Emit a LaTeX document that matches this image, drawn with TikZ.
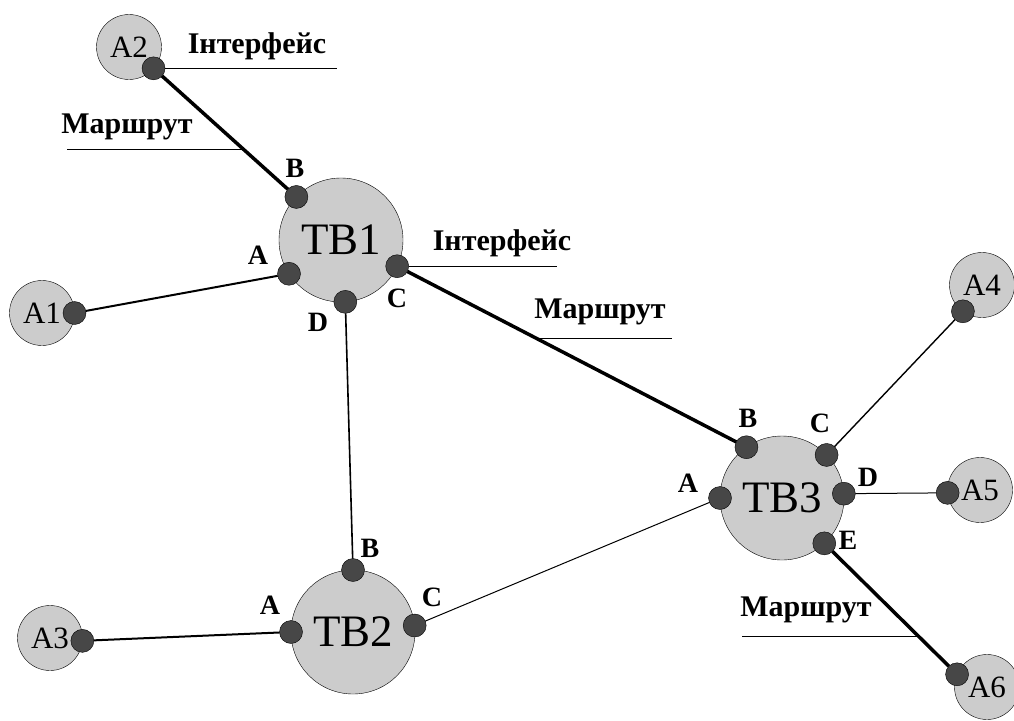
\documentclass[tikz,border=0pt]{standalone}
\usepackage{fontspec}
\setmainfont{Liberation Serif}
\usepackage{tikz}
\usepackage{xcolor}
\definecolor{hubgray}{HTML}{CCCCCC}
\definecolor{portgray}{HTML}{474747}
\newcommand\portR{11.5pt}
\tikzstyle{hub}=[circle,draw,fill=hubgray,minimum size=124pt,
  inner sep=0pt,outer sep=0pt,font=\fontsize{45}{45}\selectfont]
\tikzstyle{term}=[circle,draw,fill=hubgray,minimum size=65pt,
  inner sep=0pt,outer sep=0pt,font=\fontsize{31}{31}\selectfont]
\tikzstyle{port}=[circle,draw,fill=portgray,minimum size=2*\portR,
  inner sep=0pt,outer sep=0pt]
\tikzstyle{plbl}=[font=\bfseries\fontsize{28}{28}\selectfont,inner sep=0pt]
\tikzstyle{note}=[font=\bfseries\fontsize{30}{30}\selectfont,inner sep=0pt]
\tikzstyle{route}=[line width=3.5pt]

\begin{document}
\begin{tikzpicture}[x=1pt,y=-1pt]
  \useasboundingbox (0,0) rectangle (1014,720);
  % nodes
  \foreach \n/\x/\y/\t in {tb1/341/240/TB1, tb2/353/632/TB2, tb3/782/498/TB3}
    \node[hub] (\n) at (\x,\y) {\t};
  \foreach \n/\x/\y/\t in {a1/42/313/A1, a2/129/47/A2, a3/50/638/A3,
                           a4/982/285/A4, a5/980/490/A5, a6/987/687/A6}
    \node[term] (\n) at (\x,\y) {\t};

  % ports
  \foreach \h/\a/\p in {tb1/136/B, tb1/213/A, tb1/274/D, tb1/335/C,
                        tb2/90/B, tb2/180/A, tb2/6/C,
                        tb3/125/B, tb3/44/C, tb3/4/D, tb3/180/A, tb3/313/E}
    \node[port] (\h\p) at (\h.\a) {};
  \foreach \h/\a in {a1/0, a2/319, a3/-5, a4/234, a5/185, a6/157}
    \node[port] (p\h) at (\h.\a) {};
  \foreach \l/\x/\y [count=\i] in {B/295/168, A/258/255, D/318/322, C/397/298,
                                   B/370/548, A/270/605, C/432/597,
                                   B/748/418, C/820/423, D/868/477, A/688/483, E/848/540}
    \node[plbl] (lbl\i) at (\x,\y) {\l};

  % links
  \draw[route] (pa2) -- (tb1B);
  \draw[route] (tb1C) -- (tb3B);
  \draw[route] (tb3E) -- (pa6);
  \draw[line width=2pt] (pa1) -- (tb1A);
  \draw[line width=1.6pt] (tb1D) -- (tb2B);
  \draw[line width=2pt] (pa3) -- (tb2A);
  \draw[line width=1pt] (tb2C) -- (tb3A);
  \draw[line width=1.4pt] (tb3C) -- (pa4);
  \draw[line width=1pt] (tb3D) -- (pa5);

  % notes
  \node[note] (if1) at (257,46) {Інтерфейс};
  \node[note] (if2) at (502,243) {Інтерфейс};
  \node[note] (rt1) at (127,127) {Маршрут};
  \node[note] (rt2) at (600,312) {Маршрут};
  \node[note] (rt3) at (806,610) {Маршрут};
  \coordinate (if1e) at (337,69);
  \coordinate (if2e) at (557,266);
  \draw[line width=1pt] (pa2) -- (pa2 -| if1e);
  \draw[line width=1pt] (tb1C) -- (tb1C -| if2e);
  \coordinate (rt1s) at (67,149);  \coordinate (rt1e) at (243,149);
  \coordinate (rt2s) at (537,338); \coordinate (rt2e) at (672,338);
  \coordinate (rt3s) at (742,636); \coordinate (rt3e) at (919,636);
  \foreach \i in {1,2,3}
    \draw[line width=1pt] (rt\i s) -- (rt\i e);
\end{tikzpicture}
\end{document}
